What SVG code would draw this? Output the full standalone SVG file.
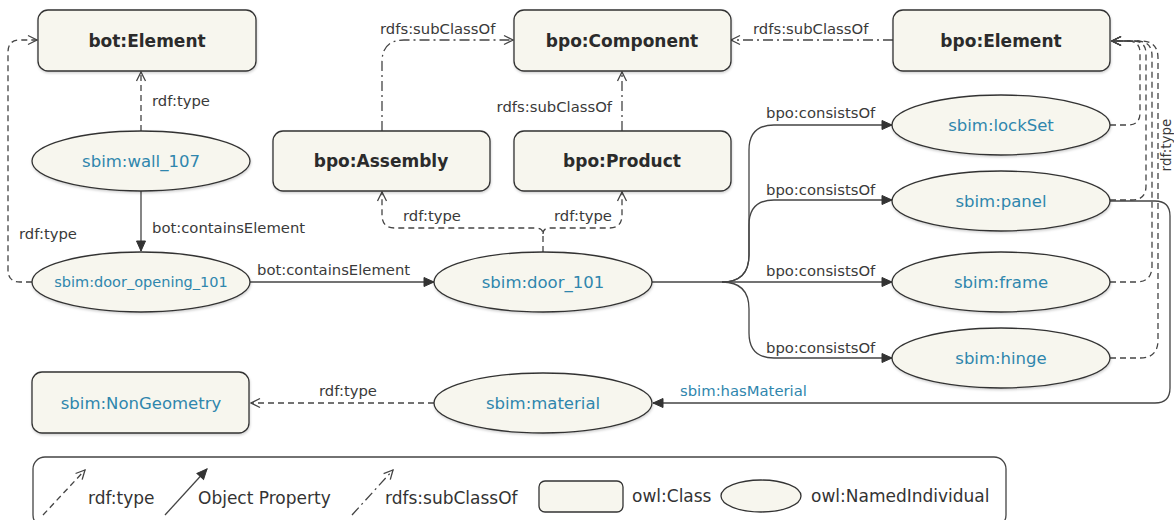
<svg xmlns="http://www.w3.org/2000/svg" width="1174" height="520" viewBox="0 0 1174 520">
<defs>
<filter id="sh" x="-10%" y="-20%" width="120%" height="150%">
<feDropShadow dx="0.5" dy="1.5" stdDeviation="1.2" flood-color="#000" flood-opacity="0.18"/>
</filter>
<marker id="open" viewBox="0 0 12 12" refX="11" refY="6" markerWidth="12" markerHeight="12" markerUnits="userSpaceOnUse" orient="auto">
<path d="M2,1.5 L11,6 L2,10.5" fill="none" stroke="#444" stroke-width="1.3"/>
</marker>
<marker id="fill" viewBox="0 0 12 12" refX="11" refY="6" markerWidth="12" markerHeight="12" markerUnits="userSpaceOnUse" orient="auto">
<path d="M1,1.5 L11,6 L1,10.5 Z" fill="#333" stroke="#333" stroke-width="1"/>
</marker>
<style>
.cls{fill:#f7f6ee;stroke:#333;stroke-width:1.3;filter:url(#sh)}
.ind{fill:#f7f6ee;stroke:#333;stroke-width:1.3;filter:url(#sh)}
.ct{font-family:"DejaVu Sans","Liberation Sans",sans-serif;font-size:17px;font-weight:bold;fill:#2b2b2b;text-anchor:middle;dominant-baseline:central}
.it{font-family:"DejaVu Sans","Liberation Sans",sans-serif;font-size:16.5px;fill:#2f86ad;text-anchor:middle;dominant-baseline:central}
.el{font-family:"DejaVu Sans","Liberation Sans",sans-serif;font-size:14.8px;fill:#3a3a3a;dominant-baseline:central}
.lg{font-family:"DejaVu Sans","Liberation Sans",sans-serif;font-size:17px;fill:#333;dominant-baseline:central}
.type{fill:none;stroke:#444;stroke-width:1.3;stroke-dasharray:6 4}
.sub{fill:none;stroke:#444;stroke-width:1.3;stroke-dasharray:10 4 2 4}
.obj{fill:none;stroke:#444;stroke-width:1.3}
</style>
</defs>

<g id="connectors">
<path class="type" d="M141,131 V72" marker-end="url(#open)"/>
<text class="el" x="152" y="100">rdf:type</text>
<path class="obj" d="M141,191 V251" marker-end="url(#fill)"/>
<text class="el" x="152" y="227">bot:containsElement</text>
<path class="type" d="M32,282 H20 Q8,282 8,270 V52 Q8,40 20,40 H37" marker-end="url(#open)"/>
<text class="el" x="19" y="233">rdf:type</text>
<path class="obj" d="M250,282 H434" marker-end="url(#fill)"/>
<text class="el" x="257" y="269">bot:containsElement</text>
<path class="type" d="M543,252 V234 Q543,228 536,228 H395 Q382,228 382,215 V192" marker-end="url(#open)"/>
<path class="type" d="M543,234 Q543,228 550,228 H609 Q622,228 622,215 V192" marker-end="url(#open)"/>
<text class="el" x="403" y="215">rdf:type</text>
<text class="el" x="554" y="215">rdf:type</text>
<path class="sub" d="M382,131 V62 Q382,40 404,40 H513" marker-end="url(#open)"/>
<text class="el" x="380" y="28">rdfs:subClassOf</text>
<path class="sub" d="M622,131 V72" marker-end="url(#open)"/>
<text class="el" x="612" y="106" text-anchor="end">rdfs:subClassOf</text>
<path class="sub" d="M893,40 H731" marker-end="url(#open)"/>
<text class="el" x="753" y="28">rdfs:subClassOf</text>
<path class="obj" d="M652,282 H892" marker-end="url(#fill)"/>
<path class="obj" d="M722,282 Q749,282 749,255 V150 Q749,125 774,125 H892" marker-end="url(#fill)"/>
<path class="obj" d="M722,282 Q749,282 749,255 V225 Q749,200 774,200 H892" marker-end="url(#fill)"/>
<path class="obj" d="M722,282 Q749,282 749,309 V333 Q749,358 774,358 H892" marker-end="url(#fill)"/>
<text class="el" x="766" y="112">bpo:consistsOf</text>
<text class="el" x="766" y="189">bpo:consistsOf</text>
<text class="el" x="766" y="270">bpo:consistsOf</text>
<text class="el" x="766" y="347">bpo:consistsOf</text>
<path class="type" d="M1110,125 H1128 Q1140,125 1140,113 V53 Q1140,41 1128,41 H1112" marker-end="url(#open)"/>
<path class="type" d="M1110,200 H1132 Q1146,200 1146,186 V54 Q1146,41 1133,41 H1112" marker-end="url(#open)"/>
<path class="type" d="M1110,282 H1136 Q1152,282 1152,266 V56 Q1152,41 1137,41 H1112" marker-end="url(#open)"/>
<path class="type" d="M1110,358 H1140 Q1158,358 1158,340 V58 Q1158,41 1141,41 H1112" marker-end="url(#open)"/>
<text class="el" x="1166" y="145" text-anchor="middle" transform="rotate(-90 1166 145)" style="font-size:13.5px">rdf:type</text>
<path class="obj" d="M1110,201 H1155 Q1170,201 1170,216 V388 Q1170,403 1155,403 H653" marker-end="url(#fill)"/>
<text class="el" x="680" y="390" style="fill:#2f86ad">sbim:hasMaterial</text>
<path class="type" d="M434,403 H251" marker-end="url(#open)"/>
<text class="el" x="319" y="390">rdf:type</text>
</g>

<g id="bot_Element"><rect class="cls" x="38" y="10" width="218" height="61" rx="10"/><text class="ct" x="147" y="40.5">bot:Element</text></g>
<g id="bpo_Component"><rect class="cls" x="514" y="10" width="217" height="61" rx="10"/><text class="ct" x="622" y="40.5">bpo:Component</text></g>
<g id="bpo_Element"><rect class="cls" x="893" y="10" width="217" height="61" rx="10"/><text class="ct" x="1001" y="40.5">bpo:Element</text></g>
<g id="bpo_Assembly"><rect class="cls" x="273" y="131" width="217" height="60" rx="10"/><text class="ct" x="381" y="161">bpo:Assembly</text></g>
<g id="bpo_Product"><rect class="cls" x="514" y="131" width="217" height="60" rx="10"/><text class="ct" x="622" y="161">bpo:Product</text></g>
<g id="sbim_NonGeometry"><rect class="cls" x="32" y="372" width="217" height="61" rx="10"/><text class="it" x="141" y="403">sbim:NonGeometry</text></g>

<g id="sbim_wall_107"><ellipse class="ind" cx="141" cy="161" rx="109" ry="30"/><text class="it" x="141" y="161">sbim:wall_107</text></g>
<g id="sbim_door_opening_101"><ellipse class="ind" cx="141" cy="282" rx="109" ry="30"/><text class="it" x="141" y="282" style="font-size:14.5px">sbim:door_opening_101</text></g>
<g id="sbim_door_101"><ellipse class="ind" cx="543" cy="282" rx="109" ry="30"/><text class="it" x="543" y="282">sbim:door_101</text></g>
<g id="sbim_material"><ellipse class="ind" cx="543" cy="403" rx="109" ry="30"/><text class="it" x="543" y="403">sbim:material</text></g>
<g id="sbim_lockSet"><ellipse class="ind" cx="1001" cy="125" rx="109" ry="30"/><text class="it" x="1001" y="125">sbim:lockSet</text></g>
<g id="sbim_panel"><ellipse class="ind" cx="1001" cy="201" rx="109" ry="30"/><text class="it" x="1001" y="201">sbim:panel</text></g>
<g id="sbim_frame"><ellipse class="ind" cx="1001" cy="282" rx="109" ry="30"/><text class="it" x="1001" y="282">sbim:frame</text></g>
<g id="sbim_hinge"><ellipse class="ind" cx="1001" cy="358" rx="109" ry="30"/><text class="it" x="1001" y="358">sbim:hinge</text></g>

<g id="legend">
<rect x="33" y="457" width="973" height="70" rx="12" fill="#fff" stroke="#444" stroke-width="1.3"/>
<path class="type" d="M43,515 L85,470" marker-end="url(#open)"/>
<text class="lg" x="88" y="498">rdf:type</text>
<path class="obj" d="M165,515 L207,469" marker-end="url(#fill)"/>
<text class="lg" x="198" y="498">Object Property</text>
<path class="sub" d="M352,515 L393,470" marker-end="url(#open)"/>
<text class="lg" x="385" y="498">rdfs:subClassOf</text>
<rect x="539" y="481" width="84" height="31" rx="6" fill="#f7f6ee" stroke="#333" stroke-width="1.3"/>
<text class="lg" x="632" y="496">owl:Class</text>
<ellipse cx="761" cy="496" rx="40" ry="16" fill="#f7f6ee" stroke="#333" stroke-width="1.3"/>
<text class="lg" x="811" y="496">owl:NamedIndividual</text>
</g>
</svg>
